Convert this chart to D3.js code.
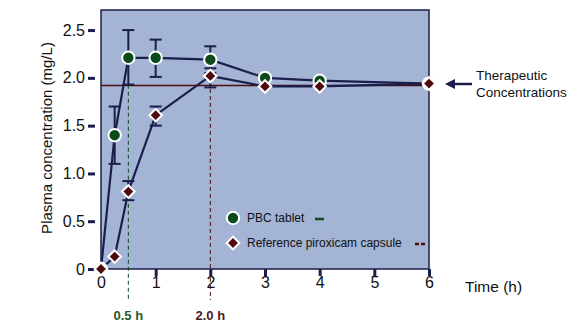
<!DOCTYPE html>
<html>
  <head>
    <script src="https://cdn.jsdelivr.net/npm/d3@7/dist/d3.min.js" charset="utf-8"></script>
<style>
body { margin: 0; background: #ffffff; }
text { font-family: "Liberation Sans", Arial, sans-serif; }
</style>
  </head>
  <body>
    <svg></svg>
    <script>
      // data
      var times = [0, 0.25, 0.5, 1, 2, 3, 4, 6];
      var tablet = [0, 1.4, 2.21, 2.21, 2.19, 2.0, 1.97, 1.94];
      var tabletLo = [null, 1.1, 1.93, 2.01, 2.05, null, null, null];
      var tabletHi = [null, 1.7, 2.5, 2.4, 2.33, null, null, null];
      var capsule = [0, 0.13, 0.81, 1.61, 2.02, 1.91, 1.91, 1.94];
      var capsuleLo = [null, null, 0.72, 1.5, 1.9, null, null, null];
      var capsuleHi = [null, null, 0.92, 1.7, 2.1, null, null, null];
      var therapeutic = 1.92;
      var xTicks = [0, 1, 2, 3, 4, 5, 6];
      var yTicks = [0, 0.5, 1.0, 1.5, 2.0, 2.5];
      var tmaxTablet = 0.5, tmaxCapsule = 2;

      var width = 586, height = 324;
      var navy = "#1b1e4b", green = "#0b4a1c", red = "#4e0a0c";
      var svg = d3.select("svg").attr("width", width).attr("height", height);

      var x = d3.scaleLinear().domain([0, 6]).range([101, 429]);
      var y = d3.scaleLinear().domain([0, 2.71]).range([269, 10]);

      svg.append("rect").attr("x", 101).attr("y", 10).attr("width", 328).attr("height", 259)
        .attr("fill", "#a3b4d5").attr("stroke", navy).attr("stroke-width", 1.5);

      // therapeutic line
      svg.append("line").attr("x1", 101).attr("x2", 429)
        .attr("y1", y(therapeutic)).attr("y2", y(therapeutic))
        .attr("stroke", red).attr("stroke-width", 1.5);

      // tmax dashed lines
      svg.append("line").attr("x1", x(tmaxTablet)).attr("x2", x(tmaxTablet))
        .attr("y1", y(2.21) + 6).attr("y2", 300)
        .attr("stroke", green).attr("stroke-dasharray", "4,3").attr("stroke-width", 1);
      svg.append("line").attr("x1", x(tmaxCapsule)).attr("x2", x(tmaxCapsule))
        .attr("y1", y(2.02) + 6).attr("y2", 300)
        .attr("stroke", red).attr("stroke-dasharray", "4,3").attr("stroke-width", 1);

      // axes
      var xAxis = svg.append("g").attr("transform", "translate(0,269)")
        .call(d3.axisBottom(x).tickValues(xTicks).tickSize(7).tickPadding(1).tickFormat(d3.format("d")));
      var yAxis = svg.append("g").attr("transform", "translate(95,0)")
        .call(d3.axisLeft(y).tickValues(yTicks).tickSize(7).tickPadding(3)
          .tickFormat(function(d){ return d === 0 ? "0" : d3.format(".1f")(d); }));
      [xAxis, yAxis].forEach(function(g){
        g.select(".domain").remove();
        g.selectAll(".tick line").attr("stroke", navy).attr("stroke-width", 3);
        g.selectAll(".tick text").attr("fill", "#111").style("font-size", "16px");
      });

      // error bars
      function errorBars(lo, hi) {
        times.forEach(function(t, i){
          if (lo[i] === null) return;
          var cx = x(t);
          svg.append("line").attr("x1", cx).attr("x2", cx).attr("y1", y(lo[i])).attr("y2", y(hi[i]))
            .attr("stroke", navy).attr("stroke-width", 2);
          [lo[i], hi[i]].forEach(function(v){
            svg.append("line").attr("x1", cx - 6).attr("x2", cx + 6).attr("y1", y(v)).attr("y2", y(v))
              .attr("stroke", navy).attr("stroke-width", 2);
          });
        });
      }
      errorBars(tabletLo, tabletHi);
      errorBars(capsuleLo, capsuleHi);

      var line = d3.line().x(function(d){ return x(d[0]); }).y(function(d){ return y(d[1]); });
      svg.append("path").attr("d", line(d3.zip(times, tablet)))
        .attr("fill", "none").attr("stroke", navy).attr("stroke-width", 2.2);
      svg.append("path").attr("d", line(d3.zip(times, capsule)))
        .attr("fill", "none").attr("stroke", navy).attr("stroke-width", 2.2);

      var circ = d3.symbol().type(d3.symbolCircle).size(120);
      var diam = d3.symbol().type(d3.symbolSquare).size(80);

      svg.selectAll(".pt1").data(d3.zip(times, tablet)).enter().append("path")
        .attr("d", circ).attr("transform", function(d){ return "translate(" + x(d[0]) + "," + y(d[1]) + ")"; })
        .attr("fill", green).attr("stroke", "#fff").attr("stroke-width", 2);
      svg.selectAll(".pt2").data(d3.zip(times, capsule)).enter().append("path")
        .attr("d", diam).attr("transform", function(d){ return "translate(" + x(d[0]) + "," + y(d[1]) + ") rotate(45)"; })
        .attr("fill", red).attr("stroke", "#fff").attr("stroke-width", 2);

      // legend
      svg.append("path").attr("d", circ).attr("transform", "translate(233,218)")
        .attr("fill", green).attr("stroke", "#fff").attr("stroke-width", 2);
      svg.append("text").attr("x", 247).attr("y", 222).style("font-size", "12px").attr("fill", "#111").text("PBC tablet");
      svg.append("line").attr("x1", 315).attr("x2", 324).attr("y1", 219).attr("y2", 219)
        .attr("stroke", green).attr("stroke-width", 2.5);
      svg.append("path").attr("d", diam).attr("transform", "translate(233,243) rotate(45)")
        .attr("fill", red).attr("stroke", "#fff").attr("stroke-width", 2);
      svg.append("text").attr("x", 247).attr("y", 247).style("font-size", "12px").attr("fill", "#111").text("Reference piroxicam capsule");
      svg.append("line").attr("x1", 415).attr("x2", 426).attr("y1", 244).attr("y2", 244)
        .attr("stroke", red).attr("stroke-width", 2.5).attr("stroke-dasharray", "4,2");

      // labels
      svg.append("text").attr("transform", "translate(52,138) rotate(-90)").attr("text-anchor", "middle")
        .style("font-size", "15px").attr("fill", "#111").text("Plasma concentration (mg/L)");
      svg.append("text").attr("x", 465).attr("y", 292).style("font-size", "15.5px").attr("fill", "#111").text("Time (h)");
      svg.append("text").attr("x", x(tmaxTablet)).attr("y", 320).attr("text-anchor", "middle")
        .style("font-size", "13px").style("font-weight", "bold").attr("fill", "#1f5a2a").text("0.5 h");
      svg.append("text").attr("x", x(tmaxCapsule)).attr("y", 320).attr("text-anchor", "middle")
        .style("font-size", "13px").style("font-weight", "bold").attr("fill", "#4e1a1a").text("2.0 h");

      // therapeutic annotation
      svg.append("line").attr("x1", 450).attr("x2", 472).attr("y1", 84).attr("y2", 84)
        .attr("stroke", navy).attr("stroke-width", 2.5);
      svg.append("path").attr("d", "M445,84 L455,79 L455,89 Z").attr("fill", navy);
      svg.append("text").attr("x", 476).attr("y", 80).style("font-size", "13.5px").attr("fill", "#111").text("Therapeutic");
      svg.append("text").attr("x", 476).attr("y", 97).style("font-size", "13.5px").attr("fill", "#111").text("Concentrations");
    </script>
  </body>
</html>
